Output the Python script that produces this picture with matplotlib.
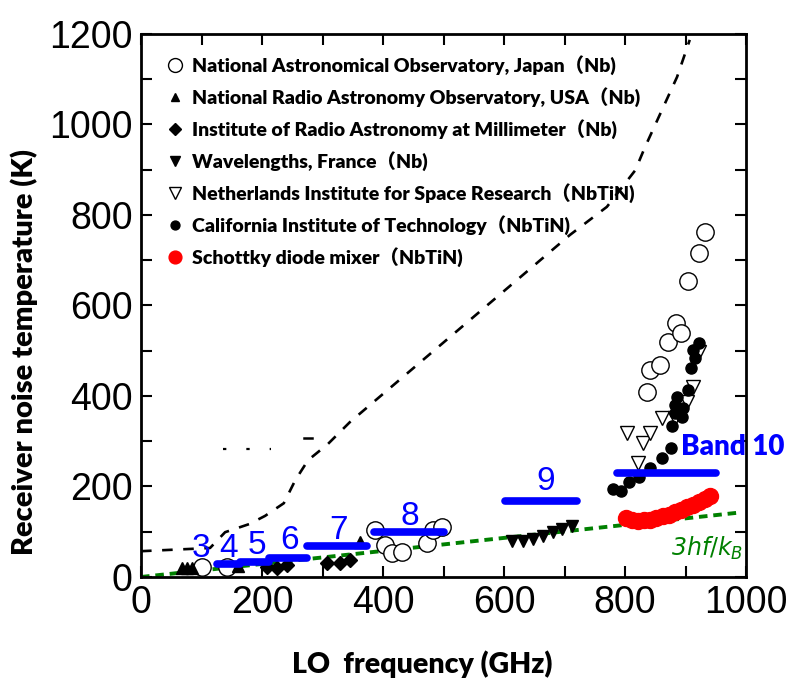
import numpy as np
import matplotlib
matplotlib.use('Agg')
import matplotlib.pyplot as plt
from matplotlib.ticker import MultipleLocator
from matplotlib.font_manager import FontProperties

# datos (GHz, K)
naoj_f = [101, 142, 387, 403, 415, 431, 473, 483, 497,
          836, 841, 858, 871, 884, 893, 904, 922, 932]
naoj_t = [22, 22, 104, 71, 53, 55, 75, 104, 111,
          409, 457, 468, 519, 561, 539, 654, 716, 762]

nrao_f = [68, 76, 84, 160, 362]
nrao_t = [20, 20, 20, 25, 77]

iram_f = [208, 225, 241, 307, 329, 345]
iram_t = [22, 20, 26, 31, 31, 38]

fr_f = [613, 631, 648, 664, 681, 696, 712]
fr_t = [79, 79, 84, 90, 99, 106, 112]

sron_f = [803, 822, 830, 841, 861, 883, 902, 912, 922]
sron_t = [318, 252, 296, 318, 351, 351, 387, 420, 497]

caltech_f = [780, 793, 807, 823, 841, 861, 876, 878, 883, 894, 896,
             886, 904, 909, 912, 922, 916, 883]
caltech_t = [194, 190, 210, 221, 241, 263, 285, 334, 362, 354, 373,
             398, 413, 462, 502, 517, 484, 380]

schottky_f = [802, 812, 822, 832, 842, 852, 862, 872, 882, 892, 902,
              912, 922, 932, 940]
schottky_t = [130, 125, 124, 126, 127, 130, 134, 138, 143, 148, 154,
              158, 165, 172, 178]

# bandas ALMA
band_lo = [125, 163, 211, 275, 385, 602]
band_hi = [163, 211, 275, 373, 500, 720]
band_t = [28, 33, 41, 68, 99, 168]
band10 = (787, 950, 230)

label_txt = ['3', '4', '5', '6', '7', '8', '9']
label_f = [99, 144, 192, 246, 326, 445, 669]
label_t = [64, 62, 70, 81, 103, 133, 210]

# curva discontinua
dash_f = [0, 114, 139, 179, 205, 236, 255, 276, 309, 345, 709, 770, 817, 833, 886, 907]
dash_t = [57, 64, 99, 117, 135, 163, 214, 258, 294, 342, 756, 818, 899, 950, 1105, 1187]

# limite cuántico 3hf/kB
h = 6.626e-34
kB = 1.381e-23
ql_f = np.array([0, 990])
ql_t = 3 * h * ql_f * 1e9 / kB

fig = plt.figure(figsize=(7.95, 6.8), dpi=100)
ax = fig.add_axes([0.1774, 0.1515, 0.761, 0.7985])

num_font = ['Liberation Sans Narrow', 'Liberation Sans', 'DejaVu Sans']
bold_font = ['Lato', 'Noto Sans CJK JP', 'DejaVu Sans']

ax.plot(dash_f, dash_t, color='black', lw=1.9, dashes=(4, 4), zorder=2)
ax.plot([135, 215], [283, 283], color='black', lw=1.6, dashes=(1.5, 9), zorder=2)
ax.plot([270, 283], [308, 308], color='black', lw=1.8, zorder=2)
ax.plot(ql_f, ql_t, color='green', lw=2.8, dashes=(2.2, 1.5), zorder=2)

for lo, hi, t in zip(band_lo, band_hi, band_t):
    ax.plot([lo, hi], [t, t], color='blue', lw=5.5, solid_capstyle='round', zorder=4)
ax.plot(band10[:2], [band10[2], band10[2]], color='blue', lw=5.5,
        solid_capstyle='round', zorder=4)

for s, f, t in zip(label_txt, label_f, label_t):
    ax.text(f, t, s, color='blue', fontsize=24, family=num_font,
            ha='center', va='center', zorder=6)
ax.text(893, 287, 'Band 10', color='blue', fontsize=20, family=bold_font,
        weight='heavy', ha='left', va='center', zorder=6)
ax.text(935, 64, r'3$\mathit{hf/k}_B$', color='green', fontsize=17,
        style='italic', ha='center', va='center', zorder=6)

ax.plot(naoj_f, naoj_t, 'o', mfc='white', mec='black', mew=1.0, ms=12.5,
        label='National Astronomical Observatory, Japan（Nb)', zorder=3)
ax.plot(nrao_f, nrao_t, '^', color='black', ms=8,
        label='National Radio Astronomy Observatory, USA（Nb)', zorder=3)
ax.plot(iram_f, iram_t, 'D', color='black', ms=7.5,
        label='Institute of Radio Astronomy at Millimeter（Nb)', zorder=3)
ax.plot(fr_f, fr_t, 'v', color='black', ms=9,
        label='Wavelengths, France（Nb)', zorder=3)
ax.plot(sron_f, sron_t, 'v', mfc='white', mec='black', mew=1.0, ms=10,
        label='Netherlands Institute for Space Research（NbTiN)', zorder=3)
ax.plot(caltech_f, caltech_t, 'o', color='black', ms=8,
        label='California Institute of Technology（NbTiN)', zorder=3)
ax.plot(schottky_f, schottky_t, 'o', color='red', ms=11.5,
        label='Schottky diode mixer（NbTiN)', zorder=3)

leg = ax.legend(loc='upper left', bbox_to_anchor=(0.02, 0.975), frameon=False,
                prop=FontProperties(family=bold_font, weight='heavy', size=14),
                handletextpad=0.1, labelspacing=0.62, handlelength=1.5,
                borderaxespad=0, markerscale=0.8)

ax.set_xlim(0, 1000)
ax.set_ylim(0, 1200)
ax.xaxis.set_major_locator(MultipleLocator(200))
ax.xaxis.set_minor_locator(MultipleLocator(100))
ax.yaxis.set_major_locator(MultipleLocator(200))
ax.yaxis.set_minor_locator(MultipleLocator(100))
ax.tick_params(which='both', direction='in', top=True, right=True,
               length=8, width=1.5)
ax.tick_params(axis='both', which='major', pad=6)
for lab in ax.get_xticklabels() + ax.get_yticklabels():
    lab.set_family(num_font)
    lab.set_fontsize(27)
for sp in ax.spines.values():
    sp.set_linewidth(2)

ax.set_xlabel('LO  frequency (GHz)', fontsize=20.5, weight='heavy', family=bold_font)
ax.set_ylabel('Receiver noise temperature (K)', fontsize=21, weight='heavy',
              family=bold_font)
ax.xaxis.set_label_coords(0.465, -0.135)
ax.yaxis.set_label_coords(-0.17, 0.415)

plt.savefig('out.png', dpi=100)
